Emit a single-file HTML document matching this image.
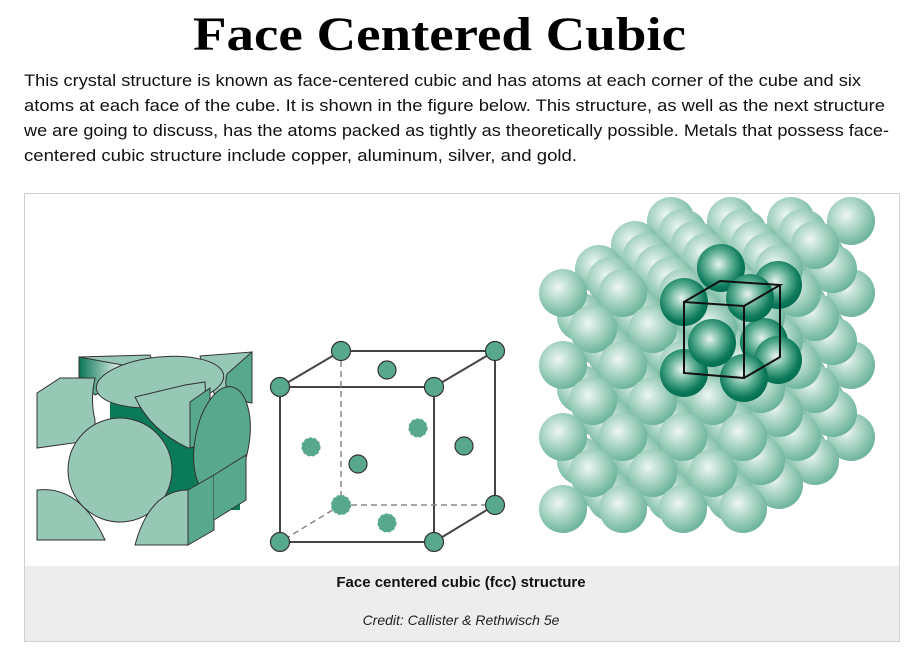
<!DOCTYPE html>
<html><head><meta charset="utf-8"><style>
html,body{margin:0;padding:0;background:#fff;width:904px;height:652px;overflow:hidden}
svg{display:block}
</style></head><body>
<svg width="904" height="652" viewBox="0 0 904 652" xmlns="http://www.w3.org/2000/svg">
<defs>
<radialGradient id="lg" cx="0.4" cy="0.38" r="0.62">
<stop offset="0" stop-color="#eef7f3"/><stop offset="0.55" stop-color="#a6d3c2"/><stop offset="1" stop-color="#6fb59c"/></radialGradient>
<radialGradient id="dg" cx="0.45" cy="0.42" r="0.6">
<stop offset="0" stop-color="#e6f3ee"/><stop offset="0.45" stop-color="#5fb094"/><stop offset="0.8" stop-color="#0e7a5c"/><stop offset="1" stop-color="#006b4d"/></radialGradient>
<linearGradient id="cv" x1="0" x2="1"><stop offset="0" stop-color="#0a7656"/><stop offset="0.6" stop-color="#e8f5f0"/><stop offset="1" stop-color="#0a7656"/></linearGradient>
</defs>

<text x="193" y="50" textLength="493" lengthAdjust="spacingAndGlyphs" font-family="Liberation Serif, serif" font-weight="bold" font-size="48" fill="#000">Face Centered Cubic</text>

<g font-family="Liberation Sans, sans-serif" font-size="17" fill="#111">
<text x="24" y="86" textLength="837" lengthAdjust="spacingAndGlyphs">This crystal structure is known as face-centered cubic and has atoms at each corner of the cube and six</text>
<text x="24" y="111" textLength="861" lengthAdjust="spacingAndGlyphs">atoms at each face of the cube. It is shown in the figure below. This structure, as well as the next structure</text>
<text x="24" y="136" textLength="865" lengthAdjust="spacingAndGlyphs">we are going to discuss, has the atoms packed as tightly as theoretically possible. Metals that possess face-</text>
<text x="24" y="161" textLength="553" lengthAdjust="spacingAndGlyphs">centered cubic structure include copper, aluminum, silver, and gold.</text>
</g>

<g>
<rect x="24.5" y="193.5" width="875" height="448" fill="#fff" stroke="#d0d0d0"/>
<rect x="25" y="566" width="874" height="75" fill="#ededed"/>
<text x="461" y="587" text-anchor="middle" font-family="Liberation Sans, sans-serif" font-weight="bold" font-size="15" fill="#111">Face centered cubic (fcc) structure</text>
<text x="461" y="625" text-anchor="middle" font-family="Liberation Sans, sans-serif" font-style="italic" font-size="14" fill="#222">Credit: Callister &amp; Rethwisch 5e</text>
</g>

<!-- hard sphere cube -->
<g stroke="#333" stroke-width="1" fill="#97c8b5">
<rect x="110" y="400" width="130" height="110" fill="#0b7a58" stroke="none"/>
<path d="M79,357 L150,355 L155,370 L92,380 Z" fill="#97c8b5"/>
<path d="M79,357 L79,380 L95,395 L150,370 Z" fill="url(#cv)"/>
<path d="M200,356 L252,352 L252,402 L215,395 L205,375 Z" fill="#97c8b5"/>
<path d="M227,374 Q220,398 252,403 L252,352 Z" fill="#58a88e"/>
<path d="M37,393 L60,378 L95,378 Q90,400 95,420 L95,440 L37,448 Z" fill="#97c8b5"/>
<ellipse cx="160" cy="382" rx="64" ry="25" transform="rotate(-6 160 382)" fill="#97c8b5"/>
<path d="M135,397 L185,385 L205,382 L208,445 L188,448 Q150,430 135,397 Z" fill="#97c8b5"/>
<path d="M190,402 L210,388 L210,442 L190,448 Z" fill="#58a88e"/>
<ellipse cx="222" cy="442" rx="27" ry="56" transform="rotate(10 222 442)" fill="#58a88e"/>
<path d="M37,490 Q80,485 105,540 L37,540 Z" fill="#97c8b5"/>
<circle cx="120" cy="470" r="52" fill="#97c8b5"/>
<path d="M135,545 Q150,490 188,490 L188,545 Z" fill="#97c8b5"/>
<path d="M188,490 L214,475 L214,530 L188,545 Z" fill="#58a88e"/>
<path d="M214,475 L246,455 L246,500 L214,520" fill="#58a88e"/>
</g>

<!-- ball-stick cell -->
<g>
<g stroke="#444" stroke-width="2" fill="none">
<rect x="280" y="387" width="154" height="155"/>
<line x1="434" y1="387" x2="495" y2="351"/><line x1="495" y1="351" x2="495" y2="505"/>
<line x1="495" y1="505" x2="434" y2="542"/><line x1="280" y1="387" x2="341" y2="351"/><line x1="341" y1="351" x2="495" y2="351"/>
</g>
<g stroke="#888" stroke-width="1.5" stroke-dasharray="6,4" fill="none">
<line x1="341" y1="351" x2="341" y2="505"/><line x1="341" y1="505" x2="495" y2="505"/><line x1="341" y1="505" x2="280" y2="542"/>
</g>
<g fill="#58a88e" stroke="#333" stroke-width="1.2">
<circle cx="341" cy="351" r="9.5"/><circle cx="495" cy="351" r="9.5"/><circle cx="280" cy="387" r="9.5"/><circle cx="434" cy="387" r="9.5"/>
<circle cx="280" cy="542" r="9.5"/><circle cx="434" cy="542" r="9.5"/><circle cx="495" cy="505" r="9.5"/>
<circle cx="387" cy="370" r="9"/><circle cx="464" cy="446" r="9"/><circle cx="358" cy="464" r="9"/>
</g>
<g fill="#58a88e" stroke="#58a88e" stroke-width="1.2" stroke-dasharray="3,2">
<circle cx="341" cy="505" r="9.5"/><circle cx="311" cy="447" r="9"/><circle cx="418" cy="428" r="9"/><circle cx="387" cy="523" r="9"/>
</g>
</g>

<!-- close packed lattice -->
<g id="pack"></g>
<g>
<g id="dark"></g>
<g stroke="#111" stroke-width="2" fill="none">
<path d="M684,302 L744,306 L744,378 L684,373 Z"/>
<path d="M684,302 L720,281 L780,285 L744,306"/>
<path d="M780,285 L780,357 L744,378"/>
</g>
</g>
<script>
var g=document.getElementById('pack');
var ns='http://www.w3.org/2000/svg';
var list=[];
for(var k=6;k>=0;k--){for(var j=0;j<7;j++){for(var i=0;i<7;i++){
 if((i+j+k)%2) continue;
 var x=563+i*30+k*18, y=293+j*36-k*12;
 if(y<215||x>860||y>510) continue;
 list.push([x,y]);
}}}
list.forEach(function(p){
 var c=document.createElementNS(ns,'circle');
 c.setAttribute('cx',p[0]);c.setAttribute('cy',p[1]);c.setAttribute('r',24);c.setAttribute('fill','url(#lg)');
 
 
 g.appendChild(c);
});
var d=document.getElementById('dark');
[[721,268],[778,285],[684,302],[764,342],[778,360],[684,373],[744,378],[750,298],[712,343]].forEach(function(p){
 var c=document.createElementNS(ns,'circle');
 c.setAttribute('cx',p[0]);c.setAttribute('cy',p[1]);c.setAttribute('r',24);c.setAttribute('fill','url(#dg)');
 
 
 d.appendChild(c);
});
</script>
</svg>
</body></html>
